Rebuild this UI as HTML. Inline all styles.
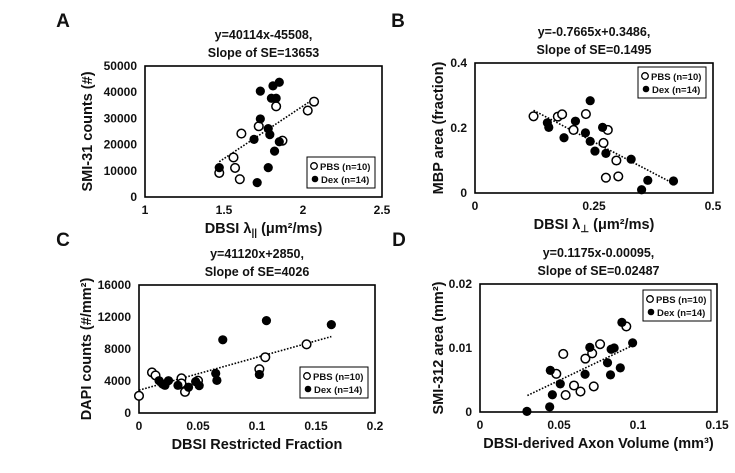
<!DOCTYPE html>
<html><head><meta charset="utf-8"><style>
body{margin:0;background:#fff}
svg text{font-family:"Liberation Sans",Arial,sans-serif;font-weight:bold;fill:#111}
</style></head><body>
<svg id="s" width="735" height="468" xmlns="http://www.w3.org/2000/svg"></svg>
<script>
// Panel A data
const aPbsX=[1.47,1.56,1.57,1.60,1.61,1.72,1.83,1.87,2.03,2.07];
const aPbsY=[9200,15100,11100,6800,24200,27000,34600,21500,33000,36400];
const aDexX=[1.47,1.71,1.73,1.73,1.69,1.78,1.78,1.79,1.80,1.81,1.83,1.82,1.85,1.85];
const aDexY=[11200,5500,40400,29800,22000,11200,26100,23800,37700,42400,37700,17500,21100,43800];
const aXTicks=[1,1.5,2,2.5];const aYTicks=[0,10000,20000,30000,40000,50000];
// Panel B data
const bPbsX=[0.123,0.174,0.183,0.207,0.233,0.27,0.279,0.275,0.301,0.297];
const bPbsY=[0.236,0.235,0.242,0.194,0.243,0.154,0.194,0.047,0.051,0.1];
const bDexX=[0.152,0.155,0.187,0.211,0.232,0.242,0.242,0.252,0.268,0.275,0.328,0.35,0.363,0.417];
const bDexY=[0.216,0.202,0.17,0.221,0.185,0.284,0.159,0.129,0.202,0.122,0.104,0.01,0.039,0.037];
const bXTicks=[0,0.25,0.5];const bYTicks=[0,0.2,0.4];
// Panel C data
const cPbsX=[0,0.011,0.014,0.036,0.039,0.05,0.102,0.107,0.142,0.036];
const cPbsY=[2144,5072,4700,4330,2640,4040,5480,6970,8580,3700];
const cDexX=[0.017,0.02,0.022,0.025,0.033,0.042,0.048,0.051,0.065,0.066,0.071,0.102,0.108,0.163];
const cDexY=[4040,3630,3460,4040,3460,3220,3920,3420,4950,4080,9150,4820,11550,11050];
const cXTicks=[0,0.05,0.1,0.15,0.2];const cYTicks=[0,4000,8000,12000,16000];
// Panel D data
const dPbsX=[0.0483,0.0527,0.0542,0.0595,0.0636,0.0667,0.071,0.072,0.076,0.0926];
const dPbsY=[0.00596,0.00907,0.00264,0.00414,0.0032,0.00834,0.00917,0.004,0.0106,0.01337];
const dDexX=[0.0297,0.0441,0.0445,0.0458,0.0508,0.0665,0.0695,0.0807,0.0826,0.083,0.0849,0.0888,0.0898,0.0966];
const dDexY=[0.0001,0.0008,0.0065,0.0027,0.0044,0.0059,0.0101,0.0077,0.0058,0.0098,0.01,0.0069,0.014,0.0108];
const dXTicks=[0,0.05,0.1,0.15];const dYTicks=[0,0.01,0.02];

const S=document.getElementById('s');const NS='http://www.w3.org/2000/svg';
function mk(t,a,p){const e=document.createElementNS(NS,t);for(const k in a)e.setAttribute(k,a[k]);(p||S).appendChild(e);return e;}
function txt(x,y,s,size,anchor,p){const e=mk('text',{x:x,y:y,'font-size':size,'text-anchor':anchor||'middle'},p);e.textContent=s;return e;}

function panel(o){
  const g=mk('g',{});
  
  
  const sx=v=>o.L+(v-o.x0)/(o.x1-o.x0)*(o.R-o.L);
  const sy=v=>o.B-(v-o.y0)/(o.y1-o.y0)*(o.B-o.T);
  const fr=mk('rect',{x:o.L,y:o.T,width:o.R-o.L,height:o.B-o.T,fill:'none',stroke:'#000','stroke-width':1.6},g);
  
  
  o.xt.forEach(v=>{const t=txt(sx(v),o.B+17,String(v),12,'middle',g);
    
    });
  o.yt.forEach(v=>{const t=txt(o.L-8,sy(v)+4,String(v),12,'end',g);
    
    });
  // trend line
  const tl=mk('line',{x1:sx(o.lx[0]),y1:sy(o.m*o.lx[0]+o.c),x2:sx(o.lx[1]),y2:sy(o.m*o.lx[1]+o.c),stroke:'#000','stroke-width':1.6,'stroke-dasharray':'1.6,1.6'},g);
  
  
  o.px.forEach((v,i)=>{const c=mk('circle',{cx:sx(v),cy:sy(o.py[i]),r:4.3,fill:'#fff',stroke:'#000','stroke-width':1.5},g);
    
    });
  o.dx.forEach((v,i)=>{const c=mk('circle',{cx:sx(v),cy:sy(o.dy[i]),r:4.6,fill:'#000'},g);
    
    });
  // legend
  const lg=mk('g',{},g);
  
  
  mk('rect',{x:o.lg[0],y:o.lg[1],width:68,height:31,fill:'#fff',stroke:'#000','stroke-width':1},lg);
  mk('circle',{cx:o.lg[0]+7,cy:o.lg[1]+9,r:3.3,fill:'#fff',stroke:'#000','stroke-width':1.3},lg);
  txt(o.lg[0]+13,o.lg[1]+13,'PBS (n=10)',9.5,'start',lg);
  mk('circle',{cx:o.lg[0]+8,cy:o.lg[1]+22,r:3.3,fill:'#000'},lg);
  txt(o.lg[0]+14,o.lg[1]+26,'Dex (n=14)',9.5,'start',lg);
  // titles
  const cx=(o.L+o.R)/2;
  const t1=txt(cx,o.T-27,o.t1,12.5,'middle',g);
  const t2=txt(cx,o.T-9,o.t2,12.5,'middle',g);
  const lt=txt(o.let[0],o.let[1],o.id,19,'middle',g);
  const xa=mk('text',{x:cx,y:o.B+36,'font-size':14.5,'text-anchor':'middle'},g);xa.innerHTML=o.xl;
  
  const yy=(o.T+o.B)/2;
  const ya=mk('text',{x:0,y:0,'font-size':14.5,'text-anchor':'middle',transform:`translate(${o.yx},${yy}) rotate(-90)`},g);ya.innerHTML=o.yl;
  
}
panel({id:'A',L:145,R:382,T:66,B:197,x0:1,x1:2.5,y0:0,y1:50000,xt:aXTicks,yt:aYTicks,px:aPbsX,py:aPbsY,dx:aDexX,dy:aDexY,m:40114,c:-45508,lx:[1.47,2.07],lg:[307,157],t1:'y=40114x-45508,',t2:'Slope of SE=13653',let:[63,27],xl:'DBSI λ<tspan font-size="10" dy="3">||</tspan><tspan dy="-3"> (μm²/ms)</tspan>',yl:'SMI-31 counts (#)',yx:92});
panel({id:'B',L:475,R:713,T:63,B:193,x0:0,x1:0.5,y0:0,y1:0.4,xt:bXTicks,yt:bYTicks,px:bPbsX,py:bPbsY,dx:bDexX,dy:bDexY,m:-0.7665,c:0.3486,lx:[0.123,0.417],lg:[638,67],t1:'y=-0.7665x+0.3486,',t2:'Slope of SE=0.1495',let:[398,27],xl:'DBSI λ<tspan font-size="10" dy="3">⊥</tspan><tspan dy="-3"> (μm²/ms)</tspan>',yl:'MBP area (fraction)',yx:443});
panel({id:'C',L:139,R:375,T:285,B:413,x0:0,x1:0.2,y0:0,y1:16000,xt:cXTicks,yt:cYTicks,px:cPbsX,py:cPbsY,dx:cDexX,dy:cDexY,m:41120,c:2850,lx:[0,0.163],lg:[300,367],t1:'y=41120x+2850,',t2:'Slope of SE=4026',let:[63,246],xl:'DBSI Restricted Fraction',yl:'DAPI counts (#/mm²)',yx:91});
panel({id:'D',L:480,R:717,T:284,B:412,x0:0,x1:0.15,y0:0,y1:0.02,xt:dXTicks,yt:dYTicks,px:dPbsX,py:dPbsY,dx:dDexX,dy:dDexY,m:0.1175,c:-0.00095,lx:[0.03,0.097],lg:[643,290],t1:'y=0.1175x-0.00095,',t2:'Slope of SE=0.02487',let:[399,246],xl:'DBSI-derived Axon Volume (mm³)',yl:'SMI-312 area (mm²)',yx:443});
</script>
</body></html>
